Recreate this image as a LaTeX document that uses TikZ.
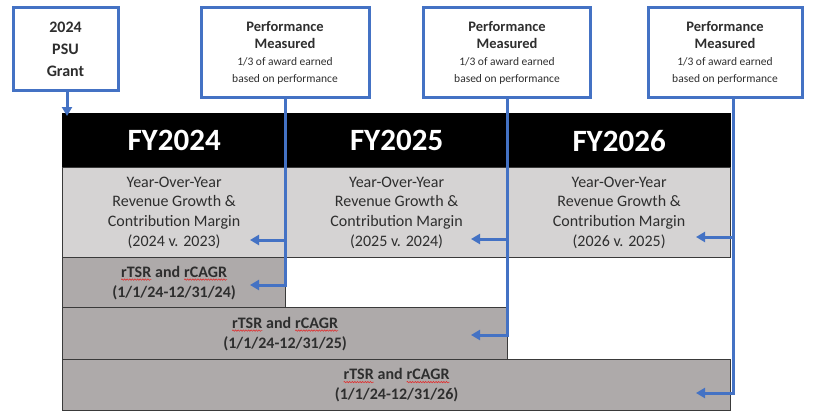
\documentclass[tikz,border=0pt]{standalone}
\usepackage{fontspec}
\setmainfont{Carlito}
\usetikzlibrary{arrows.meta,decorations.pathmorphing}

\definecolor{linkblue}{HTML}{4472C4}
\definecolor{lightcell}{HTML}{D5D3D3}
\definecolor{darkcell}{HTML}{AEAAAA}
\definecolor{cellline}{HTML}{3A3A3A}
\definecolor{bodytext}{HTML}{2E2E2E}
\definecolor{squig}{HTML}{E03030}

% word with a red wavy underline (spell-check mark)
\newcommand\spellwave[1]{\tikz[baseline=(w.base)]{%
  \node[inner sep=0pt, outer sep=0pt, minimum width=0pt, minimum height=0pt,
    draw=none, fill=none, anchor=center, align=center] (w) {#1};
  \draw[squig, line width=0.6pt, decorate,
    decoration={snake, amplitude=0.7pt, segment length=2.6pt}]
    ([yshift=-2.6pt]w.base west) -- ([yshift=-2.6pt]w.base east);}}

\begin{document}
\begin{tikzpicture}[x=1pt,y=-1pt,
  cell/.style={draw=cellline, line width=1.2pt, inner sep=0pt, anchor=north west,
    text=bodytext, align=center},
  headcell/.style={cell, fill=black, draw=black, text=white,
    font=\fontsize{31}{36}\selectfont\bfseries, minimum height=54pt},
  yoycell/.style={cell, fill=lightcell, minimum height=90pt,
    font=\fontsize{16}{19.6}\selectfont},
  tsrcell/.style={cell, fill=darkcell, font=\fontsize{16}{20}\selectfont\bfseries},
  callout/.style={draw=linkblue, line width=3pt, fill=white, align=center,
    inner sep=0pt, text=bodytext},
  flow/.style={draw=linkblue, line width=3pt,
    -{Triangle[length=9pt,width=10pt]}}
]
\useasboundingbox (0,0) rectangle (816,412);

% header row
\node[headcell, minimum width=223pt] (h1) at (62,113) {FY2024};
\node[headcell, minimum width=222pt] (h2) at (285,113) {FY2025};
\node[headcell, minimum width=223pt] (h3) at (507,113) {FY2026};

% year-over-year measures
\node[yoycell, minimum width=223pt] (y1) at (62,167)
  {Year-Over-Year\\Revenue Growth \&\\Contribution Margin\\(2024 v. 2023)};
\node[yoycell, minimum width=222pt] (y2) at (285,167)
  {Year-Over-Year\\Revenue Growth \&\\Contribution Margin\\(2025 v. 2024)};
\node[yoycell, minimum width=223pt] (y3) at (507,167)
  {Year-Over-Year\\Revenue Growth \&\\Contribution Margin\\(2026 v. 2025)};

% cumulative relative measures
\node[tsrcell, minimum width=223pt, minimum height=50pt] (t1) at (62,257)
  {\spellwave{rTSR} and \spellwave{rCAGR}\\(1/1/24-12/31/24)};
\node[tsrcell, minimum width=445pt, minimum height=52pt] (t2) at (62,307)
  {\spellwave{rTSR} and \spellwave{rCAGR}\\(1/1/24-12/31/25)};
\node[tsrcell, minimum width=668pt, minimum height=51pt] (t3) at (62,359)
  {\spellwave{rTSR} and \spellwave{rCAGR}\\(1/1/24-12/31/26)};

% callout boxes
\node[callout, minimum width=105pt, minimum height=82pt,
  font=\fontsize{16}{22}\selectfont\bfseries] (g) at (65.5,49)
  {2024\\PSU\\Grant};
\node[callout, minimum width=168pt, minimum height=89pt,
  font=\fontsize{14.5}{17}\selectfont\bfseries] (p1) at (285,52.5)
  {Performance\\Measured\\{\fontsize{11.5}{17}\selectfont\mdseries 1/3 of award earned}\\
   {\fontsize{11.5}{17}\selectfont\mdseries based on performance}};
\node[callout, minimum width=167pt, minimum height=89pt,
  font=\fontsize{14.5}{17}\selectfont\bfseries] (p2) at (507,52.5)
  {Performance\\Measured\\{\fontsize{11.5}{17}\selectfont\mdseries 1/3 of award earned}\\
   {\fontsize{11.5}{17}\selectfont\mdseries based on performance}};
\node[callout, minimum width=154pt, minimum height=89pt,
  font=\fontsize{14.5}{17}\selectfont\bfseries] (p3) at (725,52.5)
  {Performance\\Measured\\{\fontsize{11.5}{17}\selectfont\mdseries 1/3 of award earned}\\
   {\fontsize{11.5}{17}\selectfont\mdseries based on performance}};

% connector end points
\coordinate (gt) at (67,116);
\coordinate (j1) at (285,240);
\coordinate (e1a) at (250,240);
\coordinate (e1b) at (250,285);
\coordinate (j2) at (507,239);
\coordinate (e2a) at (471,239);
\coordinate (e2b) at (471,335);
\coordinate (j3) at (733,237);
\coordinate (e3a) at (696,237);
\coordinate (e3b) at (696,393);

% connectors
\draw[flow] (g.south -| gt) -- (gt);
\draw[flow] (p1.south) |- (e1b);
\draw[flow] (j1) -- (e1a);
\draw[flow] (p2.south) |- (e2b);
\draw[flow] (j2) -- (e2a);
\draw[flow] (p3.south -| j3) |- (e3b);
\draw[flow] (j3) -- (e3a);
\end{tikzpicture}
\end{document}
